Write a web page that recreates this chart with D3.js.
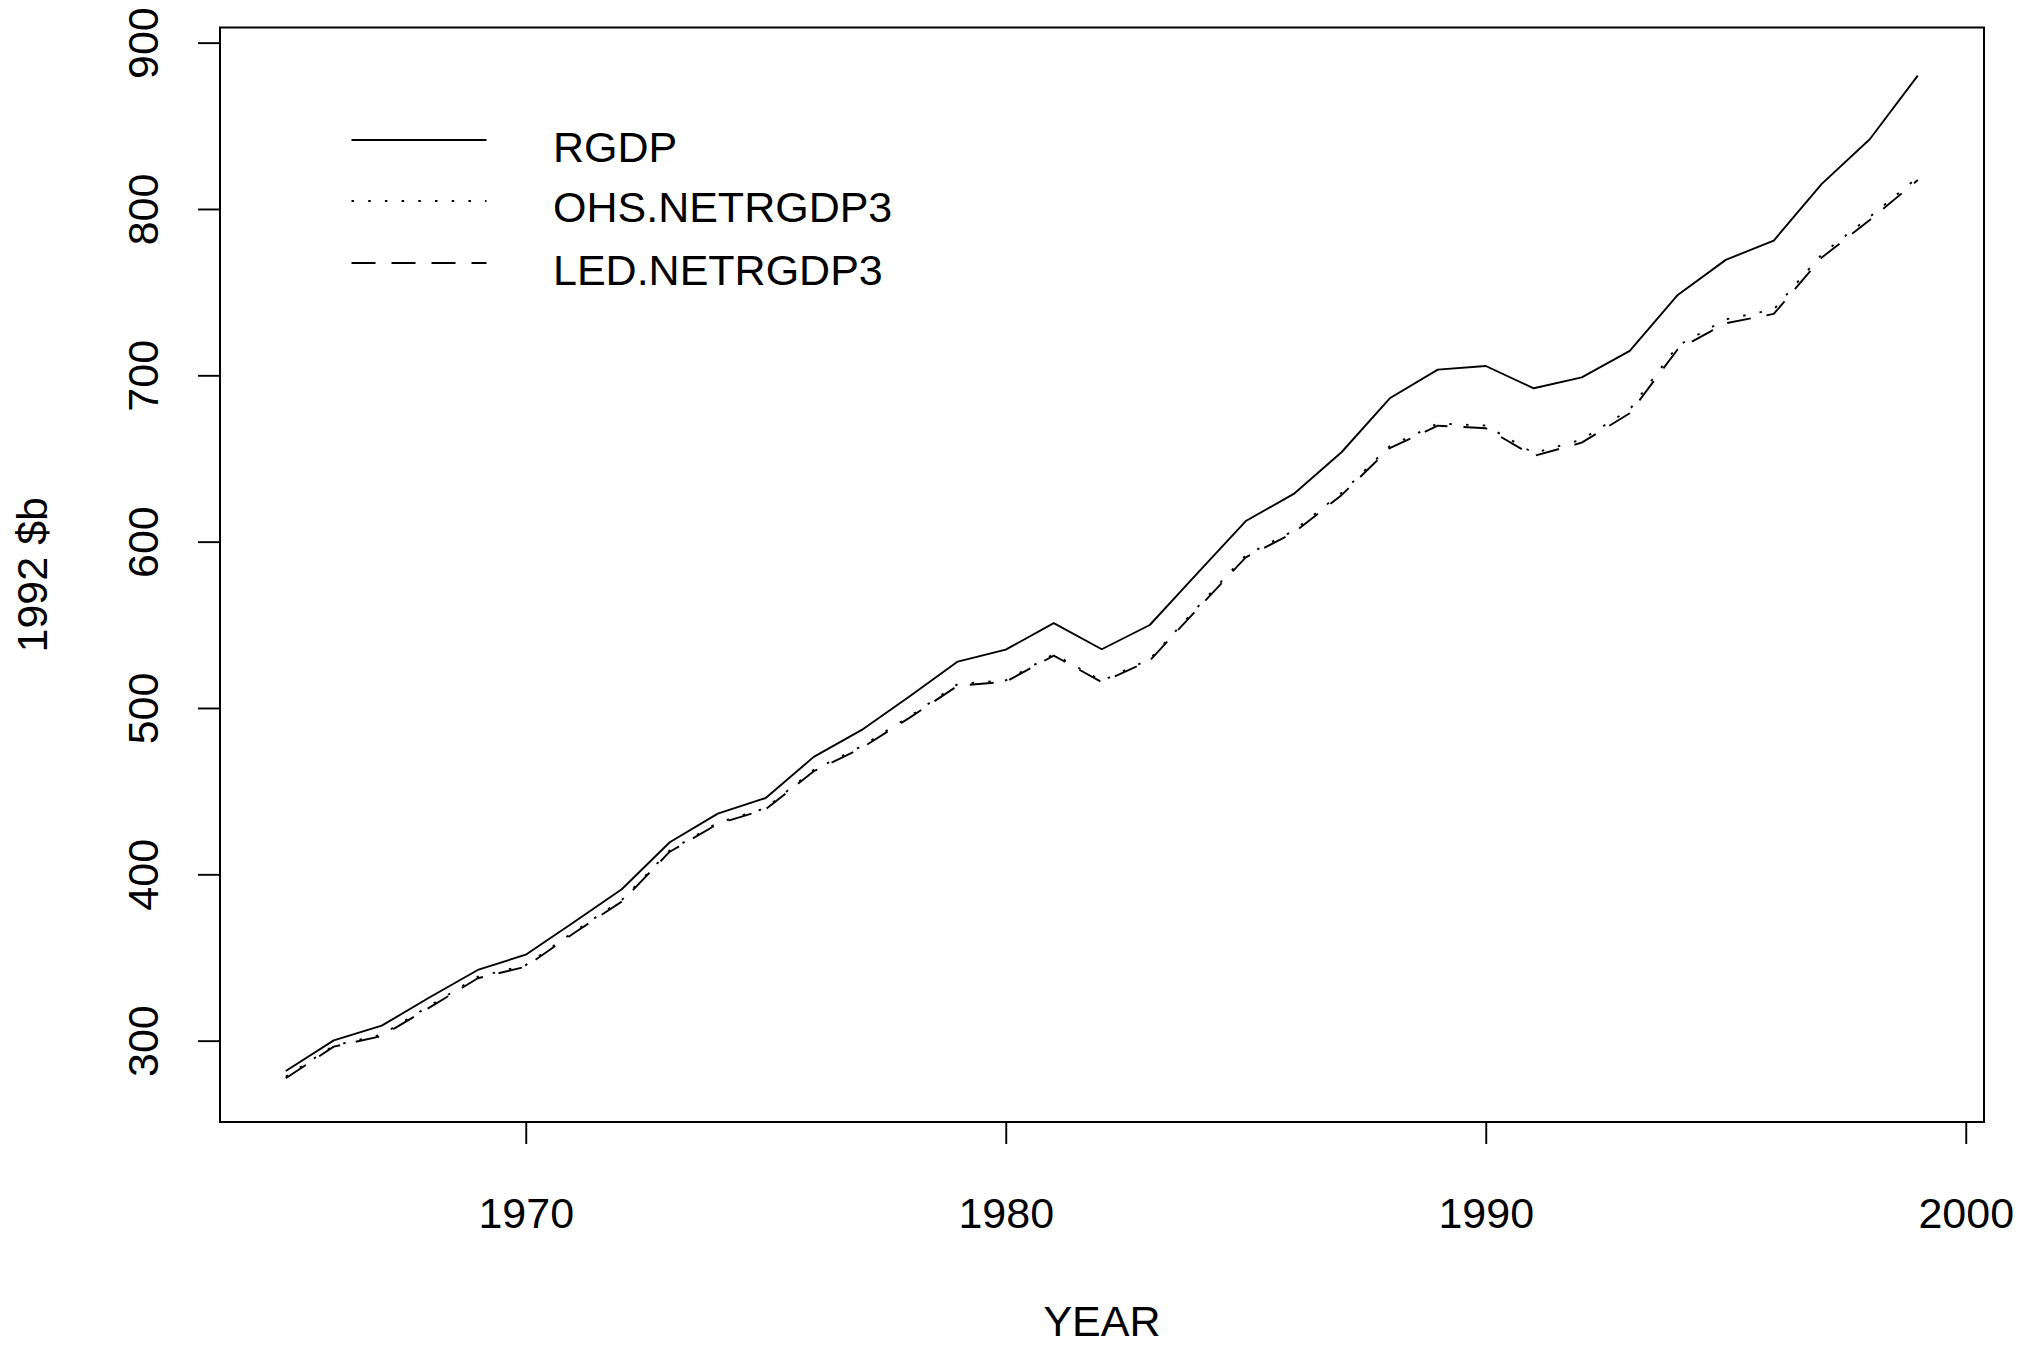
<!DOCTYPE html>
<html>
<head>
<meta charset="utf-8">
<script src="https://cdn.jsdelivr.net/npm/d3@7"></script>
<style>
  body { margin: 0; background: #fff; }
  text { font-family: "Liberation Sans", Arial, sans-serif; fill: #000; }
</style>
</head>
<body>
<div id="chart"></div>
<script>
// Data
// ============================================================================
const years = d3.range(1965, 2000);

const rgdp = [281.8, 300.2, 309.0, 326.1, 342.5, 351.7, 371.2, 391.0, 419.3, 436.5,
              445.9, 470.6, 486.8, 507.1, 527.9, 535.1, 551.0, 535.3, 549.9, 581.2,
              612.4, 628.7, 653.9, 686.2, 703.4, 705.6, 692.2, 698.8, 714.7, 748.3,
              769.4, 781.0, 815.1, 841.9, 880.2];

const ohs = [278.4, 297.0, 303.6, 321.0, 338.4, 345.4, 365.4, 384.5, 414.4, 431.0,
             439.8, 462.8, 477.0, 495.0, 514.4, 516.6, 532.3, 516.4, 529.3, 560.8,
             591.8, 606.6, 629.4, 657.4, 671.0, 669.8, 653.2, 661.4, 679.4, 717.8,
             733.6, 739.6, 772.8, 795.2, 819.0];

const led = [277.4, 296.4, 302.8, 320.0, 337.5, 344.5, 364.6, 383.6, 413.6, 430.3,
             439.1, 462.0, 476.0, 494.2, 513.4, 515.8, 531.5, 515.5, 528.5, 559.7,
             590.6, 605.4, 628.1, 656.2, 669.7, 668.2, 651.5, 659.5, 677.2, 715.7,
             731.3, 736.9, 770.8, 793.4, 817.4];

const seriesNames = ["RGDP", "OHS.NETRGDP3", "LED.NETRGDP3"];
const xTicks = [1970, 1980, 1990, 2000];
const yTicks = [300, 400, 500, 600, 700, 800, 900];

// Layout
// ============================================================================
const W = 2041, H = 1345,
    margin = {top: 27.5, right: 57, bottom: 223, left: 220},
    width = W - margin.left - margin.right,
    height = H - margin.top - margin.bottom;

const fontSize = 43,
    lw = 1.9;

// dash patterns: solid, dotted, dashed (like R lty 1, 3, 2)
const dashes = [null, "2.5,14.2", "24,16"];

const svg = d3.select("#chart")
    .append("svg")
        .attr("width", W)
        .attr("height", H)
    .append("g")
        .attr("transform", "translate(" + margin.left + "," + margin.top + ")");

// Scales
// ============================================================================
const xScale = d3.scaleLinear()
    .domain([1963.63, 2000.38])
    .range([0, width]);

const yScale = d3.scaleLinear()
    .domain([251.1, 909.1])
    .range([height, 0]);

// Axes
// ============================================================================
const xAxis = svg.append("g")
    .attr("transform", "translate(0," + height + ")")
    .call(d3.axisBottom(xScale)
        .tickValues(xTicks)
        .tickFormat(d3.format("d"))
        .tickSize(22)
        .tickSizeOuter(0));

xAxis.select(".domain").remove();
xAxis.selectAll("line").attr("stroke", "#000").attr("stroke-width", lw);
xAxis.selectAll("text")
    .attr("y", 106)
    .attr("dy", 0)
    .style("font-size", fontSize + "px")
    .style("font-family", "'Liberation Sans', Arial, sans-serif");

const yAxis = svg.append("g")
    .call(d3.axisLeft(yScale)
        .tickValues(yTicks)
        .tickSize(22)
        .tickSizeOuter(0));

yAxis.select(".domain").remove();
yAxis.selectAll("line").attr("stroke", "#000").attr("stroke-width", lw);
yAxis.selectAll("text")
    .attr("transform", "rotate(-90)")
    .attr("x", 0)
    .attr("y", -61.7)
    .attr("dy", 0)
    .attr("text-anchor", "middle")
    .style("font-size", fontSize + "px")
    .style("font-family", "'Liberation Sans', Arial, sans-serif");

// Box
svg.append("rect")
    .attr("x", 0)
    .attr("y", 0)
    .attr("width", width)
    .attr("height", height)
    .attr("fill", "none")
    .attr("stroke", "#000")
    .attr("stroke-width", 2);

// Axis titles
svg.append("text")
    .attr("x", width / 2)
    .attr("y", 1336 - margin.top)
    .attr("text-anchor", "middle")
    .style("font-size", fontSize + "px")
    .text("YEAR");

svg.append("text")
    .attr("transform", "translate(" + (47 - margin.left) + "," + (height / 2) + ") rotate(-90)")
    .attr("text-anchor", "middle")
    .style("font-size", fontSize + "px")
    .text("1992 $b");

// Lines
// ============================================================================
const line = d3.line()
    .x((d, i) => xScale(years[i]))
    .y(d => yScale(d));

[rgdp, ohs, led].forEach((s, k) => {
    svg.append("path")
        .datum(s)
        .attr("d", line)
        .attr("fill", "none")
        .attr("stroke", "#000")
        .attr("stroke-width", lw)
        .attr("stroke-linejoin", "round")
        .attr("stroke-dasharray", dashes[k]);
});

// Legend
// ============================================================================
const legendLineY = [140, 201, 263],
    legendTextY = [161.7, 221.7, 285];

seriesNames.forEach((name, k) => {
    svg.append("line")
        .attr("x1", 351.5 - margin.left)
        .attr("x2", 486.5 - margin.left)
        .attr("y1", legendLineY[k] - margin.top)
        .attr("y2", legendLineY[k] - margin.top)
        .attr("stroke", "#000")
        .attr("stroke-width", lw)
        .attr("stroke-dasharray", dashes[k]);

    svg.append("text")
        .attr("x", 553 - margin.left)
        .attr("y", legendTextY[k] - margin.top)
        .style("font-size", fontSize + "px")
        .text(name);
});
</script>
</body>
</html>
